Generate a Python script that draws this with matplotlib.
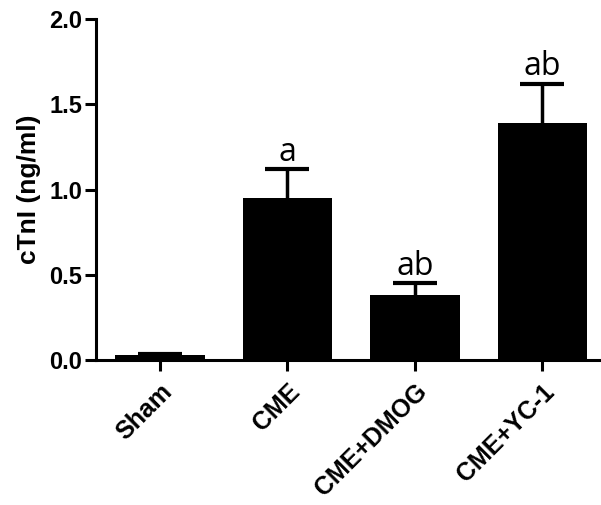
import matplotlib.pyplot as plt

groups = ["Sham", "CME", "CME+DMOG", "CME+YC-1"]
means = [0.03, 0.95, 0.38, 1.39]
errs = [0.005, 0.17, 0.07, 0.23]
marks = ["", "a", "ab", "ab"]

plt.rcParams['font.family'] = ['Liberation Sans', 'DejaVu Sans']

fig = plt.figure(figsize=(6.01, 5.05), dpi=100)
ax = fig.add_axes([0.16, 0.287, 0.838, 0.675])

x = range(len(groups))
ax.bar(x, means, width=0.7, color="black")
# upper error only, hide the lower caps
_, caps, _ = ax.errorbar(x, means, yerr=[[0]*len(errs), errs], fmt="none",
                         ecolor="black", elinewidth=2.5, capsize=16, capthick=3)
caps[0].set_visible(False)

for i, m in enumerate(marks):
    if m:
        ax.text(i, means[i] + errs[i] + 0.05, m, ha="center", va="baseline",
                fontsize=23, family=["Open Sans", "DejaVu Sans"])

ax.set_xlim(-0.5, 3.45)
ax.set_ylim(0, 2.0)
ax.set_yticks([0.0, 0.5, 1.0, 1.5, 2.0])
ax.set_yticklabels(["0.0", "0.5", "1.0", "1.5", "2.0"])
ax.set_xticks(list(x))
ax.set_xticklabels(groups, rotation=45, ha="right", rotation_mode="anchor")
ax.set_ylabel("cTnI (ng/ml)", fontsize=19, fontweight="bold", labelpad=6)

for lab in ax.get_yticklabels():
    lab.set_fontweight("bold")
    lab.set_fontsize(17)
for lab in ax.get_xticklabels():
    lab.set_fontweight("bold")
    lab.set_fontsize(18)

ax.spines["top"].set_visible(False)
ax.spines["right"].set_visible(False)
ax.spines["left"].set_linewidth(2.2)
ax.spines["bottom"].set_linewidth(2.2)
ax.tick_params(axis="both", width=2.2, length=8, direction="out")
ax.tick_params(axis="y", pad=2)
ax.tick_params(axis="x", pad=6)

fig.savefig("out.png", dpi=100)
